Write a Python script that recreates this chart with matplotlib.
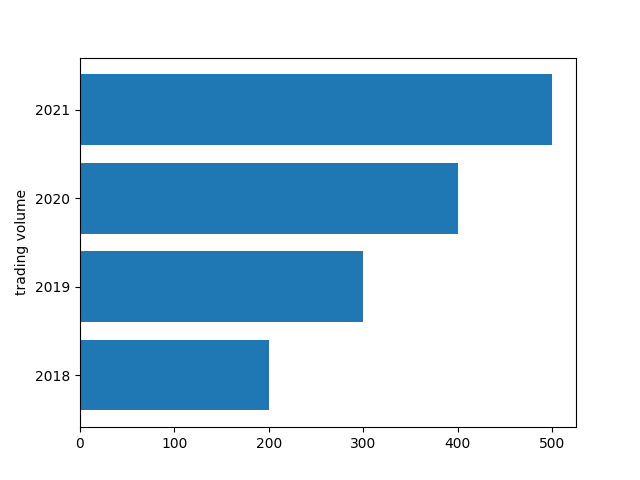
import matplotlib
matplotlib.use("Agg")
import matplotlib.pyplot as plt

years = ["2018", "2019", "2020", "2021"]
volume = [200, 300, 400, 500]

fig, ax = plt.subplots(figsize=(6.4, 4.8), dpi=100)
ax.barh(years, volume, color="#1f77b4")
ax.set_ylabel("trading volume")
fig.savefig("out.png", dpi=100)
